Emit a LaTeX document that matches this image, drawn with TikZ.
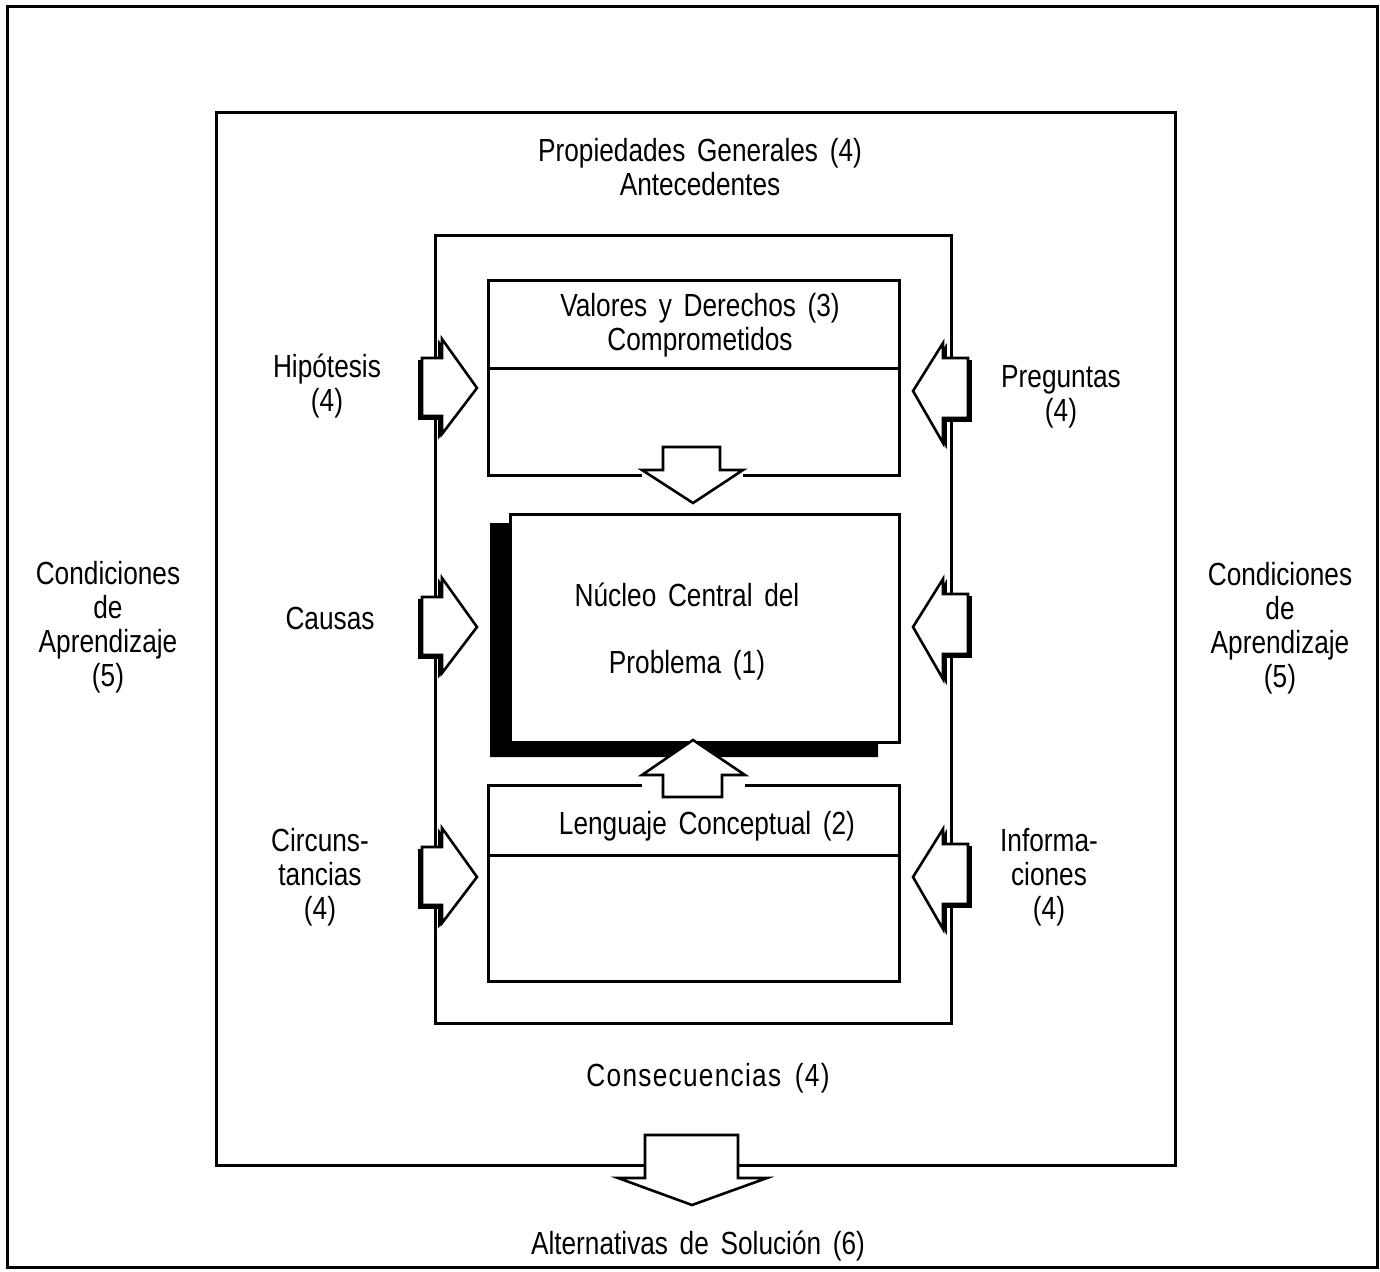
\documentclass[tikz,border=0pt]{standalone}
\usepackage{fontspec}
\setmainfont{Liberation Sans}[FakeStretch=0.82, WordSpace=1.6]
\begin{document}
\begin{tikzpicture}[x=0.5pt,y=-0.5pt,
  lbl/.style={font=\fontsize{16}{17}\selectfont, align=center, inner sep=0pt},
  frame/.style={line width=1.5pt, line join=miter},
  arrowshape/.style={fill=white, draw=black, line width=1.3pt, line join=miter},
  shadowshape/.style={fill=black, draw=black, line width=0.8pt}]
\useasboundingbox (0,0) rectangle (1380,1272);
% outer frame
\draw[frame] (7,7) rectangle (1377,1267);
% box 2
\draw[frame] (216,113) rectangle (1175,1165);
% box 3
\draw[frame] (435,236) rectangle (951,1023);
% Valores box
\draw[frame] (642,476) -- (488,476) -- (488,281) -- (899,281) -- (899,476) -- (743,476);
\draw[frame] (488,369) -- (899,369);
% Lenguaje box
\draw[frame] (642,785) -- (488,785) -- (488,981) -- (899,981) -- (899,785) -- (745,785);
\draw[frame] (488,855) -- (899,855);
% Nucleo shadow and box
\fill (490,523) -- (510,523) -- (510,742) -- (878,742) -- (878,757) -- (490,757) -- cycle;
\draw[frame, fill=white] (510,514) rectangle (899,742);
% left arrows
\foreach \cy in {388,627,877}{
  \begin{scope}[shift={(477,\cy)}]
    \draw[shadowshape] (-3,3) -- (-38,-46) -- (-38,-27) -- (-58,-27) -- (-58,31) -- (-38,31) -- (-38,49) -- cycle;
    \draw[arrowshape] (0,0) -- (-35,-49) -- (-35,-30) -- (-55,-30) -- (-55,28) -- (-35,28) -- (-35,46) -- cycle;
  \end{scope}
}
% right arrows
\foreach \cy in {391,627,877}{
  \begin{scope}[shift={(913,\cy)}]
    \draw[shadowshape] (3,3) -- (33,-45) -- (33,-30) -- (58,-30) -- (58,30) -- (33,30) -- (33,55) -- cycle;
    \draw[arrowshape] (0,0) -- (30,-48) -- (30,-33) -- (55,-33) -- (55,27) -- (30,27) -- (30,52) -- cycle;
  \end{scope}
}
% down arrow Valores -> Nucleo
\draw[arrowshape] (693,503) -- (642,470) -- (663,470) -- (663,447) -- (720,447) -- (720,470) -- (743,470) -- cycle;
% up arrow Lenguaje -> Nucleo
\draw[arrowshape] (693,740) -- (642,775) -- (663,775) -- (663,797) -- (722,797) -- (722,775) -- (745,775) -- cycle;
% bottom arrow
\draw[arrowshape] (692,1205) -- (618,1178) -- (645,1178) -- (645,1135) -- (738,1135) -- (738,1178) -- (767,1178) -- cycle;
% labels
\node[lbl] (prop) at (700,167) {Propiedades Generales (4)\\Antecedentes};
\node[lbl] (val) at (700,325) {Valores y Derechos (3)\\Comprometidos};
\node[lbl] (hip) at (327,386) {Hip\'otesis\\(4)};
\node[lbl] (preg) at (1061,397) {Preguntas\\(4)};
\node[lbl] (condl) at (108,627) {Condiciones\\de\\Aprendizaje\\(5)};
\node[lbl] (condr) at (1280,628) {Condiciones\\de\\Aprendizaje\\(5)};
\node[lbl] (caus) at (330,618) {Causas};
\node[lbl] (nuc1) at (687,595) {N\'ucleo Central del};
\node[lbl] (nuc2) at (687,665) {Problema (1)};
\node[lbl] (leng) at (707,826) {Lenguaje Conceptual (2)};
\node[lbl] (circ) at (320,877) {Circuns-\\tancias\\(4)};
\node[lbl] (info) at (1049,877) {Informa-\\ciones\\(4)};
\node[lbl, font=\fontsize{16}{17}\selectfont\addfontfeature{LetterSpace=4}] (cons) at (708,1078) {Consecuencias\ (4)};
\node[lbl] (alt) at (698,1246) {Alternativas de Soluci\'on (6)};
\end{tikzpicture}
\end{document}
